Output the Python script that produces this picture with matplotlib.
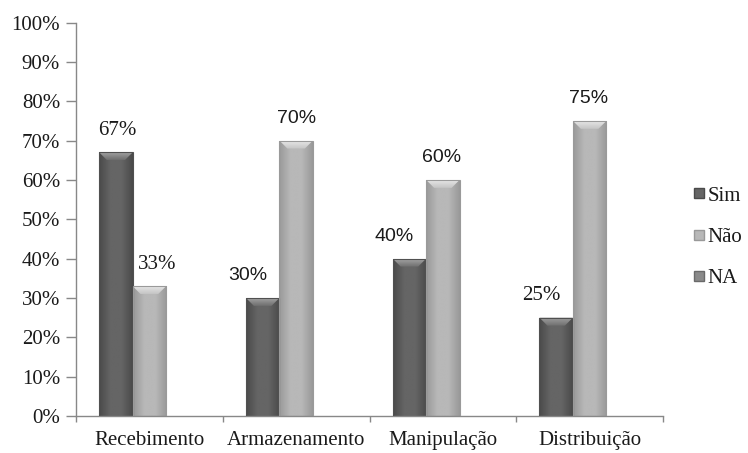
import numpy as np
import matplotlib
matplotlib.use("Agg")
import matplotlib.pyplot as plt
from matplotlib.patches import Polygon, Rectangle
from matplotlib.lines import Line2D

categories = ["Recebimento", "Armazenamento", "Manipulação", "Distribuição"]
series_names = ["Sim", "Não", "NA"]
sim = [67, 30, 40, 25]
nao = [33, 70, 60, 75]
na = [0, 0, 0, 0]
yticks = [0, 10, 20, 30, 40, 50, 60, 70, 80, 90, 100]
ytick_labels = [f"{v}%" for v in yticks]

# label placement (pixel offsets from the bar centre) and font per label
sim_label_dx = [1, -15, -15, -15]
nao_label_dx = [8, 0, -1, -1]
sim_label_serif = [True, False, False, True]
nao_label_serif = [True, False, False, False]

SERIF = "Liberation Serif"
SANS = "Liberation Sans"
FS = 15
FS_SANS = 14

fig = plt.figure(figsize=(7.48, 4.53), dpi=100)
ax = fig.add_axes([76 / 748, 1 - 416 / 453, (663 - 76) / 748, (416 - 22.5) / 453])

n = len(categories)
x = np.arange(n) + 0.5
w = 0.228

# (face middle, face edge, bevel top, bevel bottom, outline)
base = {"Sim": ("#656565", "#4a4a4a", "#a2a2a2", "#6e6e6e", "#505050"),
        "Não": ("#b8b8b8", "#999999", "#e6e6e6", "#c4c4c4", "#9a9a9a"),
        "NA": ("#8a8a8a", "#6a6a6a", "#c0c0c0", "#909090", "#707070")}

ax.set_xlim(0, n)
ax.set_ylim(0, 100)

px_x = n / (663 - 76)          # data units per pixel, x
px_y = 100 / (416 - 22.5)      # data units per pixel, y


def vgradient(poly_pts, c_top, c_bot, y_top, y_bot, xl, xr):
    cmap = matplotlib.colors.LinearSegmentedColormap.from_list("b", [c_bot, c_top])
    grad = np.linspace(0, 1, 32).reshape(-1, 1)
    im = ax.imshow(grad, cmap=cmap, extent=(xl, xr, y_bot, y_top), origin="lower",
                   aspect="auto", zorder=3, interpolation="bilinear")
    clip = Polygon(poly_pts, closed=True, facecolor="none", edgecolor="none",
                   transform=ax.transData)
    ax.add_patch(clip)
    im.set_clip_path(clip)


def shade(patch, colors):
    mid, edge, btop, bbot, outline = colors
    x0, y0 = patch.get_x(), patch.get_y()
    bw, bh = patch.get_width(), patch.get_height()
    if bh <= 0:
        return
    cmap = matplotlib.colors.LinearSegmentedColormap.from_list(
        "g", [edge, mid, mid, edge])
    grad = np.linspace(0, 1, 64).reshape(1, -1)
    im = ax.imshow(grad, cmap=cmap, extent=(x0, x0 + bw, y0, y0 + bh),
                   aspect="auto", zorder=2, interpolation="bilinear")
    im.set_clip_path(patch)
    # top bevel
    inset = 8 * px_x
    bev = min(8 * px_y, bh)
    pts = [(x0, y0 + bh), (x0 + bw, y0 + bh),
           (x0 + bw - inset, y0 + bh - bev), (x0 + inset, y0 + bh - bev)]
    vgradient(pts, btop, bbot, y0 + bh, y0 + bh - bev, x0, x0 + bw)
    # thin outline around the bar
    ax.add_patch(Rectangle((x0, y0), bw, bh, facecolor="none",
                           edgecolor=outline, linewidth=0.8, zorder=4))


series = [sim, nao, na]
offsets = [-w, 0, w]
containers = []
for name, vals, off in zip(series_names, series, offsets):
    bars = ax.bar(x + off, vals, width=w, color=base[name][0],
                  linewidth=0, zorder=1, label=name)
    containers.append(bars)
    for p in bars.patches:
        shade(p, base[name])

# value labels
for bars, vals, dxs, serif in [(containers[0], sim, sim_label_dx, sim_label_serif),
                               (containers[1], nao, nao_label_dx, nao_label_serif)]:
    for p, v, dx, sf in zip(bars.patches, vals, dxs, serif):
        ax.annotate(f"{v}%", (p.get_x() + p.get_width() / 2, v),
                    xytext=(dx, 22), textcoords="offset pixels",
                    ha="center", va="center", fontsize=FS if sf else FS_SANS,
                    family=SERIF if sf else SANS, color="#1a1a1a", zorder=5)

# axes styling
for s in ["top", "right"]:
    ax.spines[s].set_visible(False)
for s in ["left", "bottom"]:
    ax.spines[s].set_color("#888888")
    ax.spines[s].set_linewidth(1.0)

ax.set_yticks(yticks)
ax.set_yticklabels(ytick_labels, family=SERIF, fontsize=FS, color="#1a1a1a")
ax.tick_params(axis="y", length=7, width=1, color="#888888", pad=4.5)

ax.set_xticks(np.arange(n + 1), minor=True)
ax.set_xticks(x)
ax.set_xticklabels(categories, family=SERIF, fontsize=FS, color="#1a1a1a")
ax.tick_params(axis="x", which="major", length=0, pad=11)
ax.tick_params(axis="x", which="minor", length=4.5, width=1, color="#888888")

# legend
handles = [Line2D([], [], marker="s", linestyle="none", markersize=6.5,
                  markerfacecolor=base[nm][0], markeredgecolor=base[nm][1])
           for nm in series_names]
leg = fig.legend(handles, series_names, loc="center left",
                 bbox_to_anchor=(694 / 748, 1 - 237 / 453), frameon=False,
                 prop={"family": SERIF, "size": FS}, handlelength=0.5,
                 handletextpad=0.15, labelspacing=1.03, borderpad=0,
                 borderaxespad=0)
for t in leg.get_texts():
    t.set_color("#1a1a1a")

fig.savefig("out.png", dpi=100, facecolor="white")
